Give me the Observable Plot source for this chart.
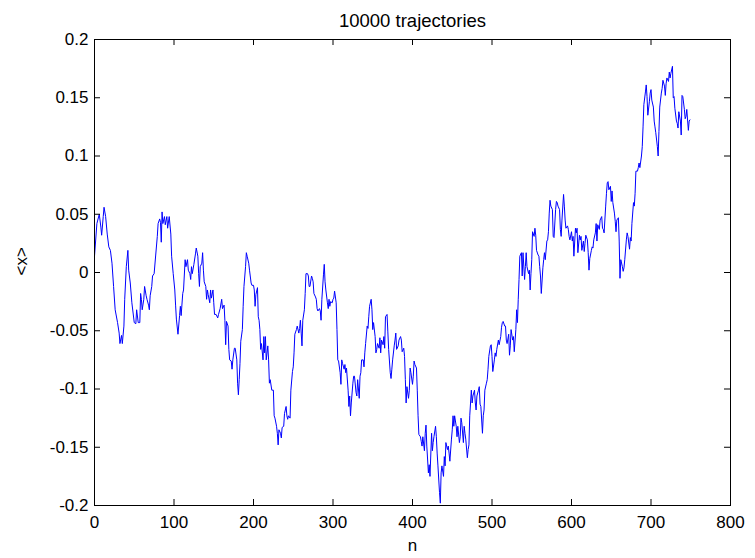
<!DOCTYPE html>
<html>
<head>
<meta charset="utf-8">
<script src="https://cdn.jsdelivr.net/npm/d3@7"></script>
<script src="https://cdn.jsdelivr.net/npm/@observablehq/plot@0.6"></script>
<style>
  html, body { margin: 0; padding: 0; background: #fff; }
</style>
</head>
<body>
<div id="chart"></div>
<script>
// Ensemble mean <x> after n steps, averaged over 10000 trajectories
const steps = [
  0, 3, 6, 8, 9, 11, 12, 14, 16, 18,
  20, 22, 24, 26, 29, 31, 32, 34, 35, 37,
  38, 40, 42, 43, 45, 47, 50, 52, 53, 55,
  57, 58, 59, 60, 62, 63, 65, 66, 68, 69,
  70, 72, 73, 75, 77, 79, 80, 82, 83, 84,
  85, 86, 88, 89, 91, 92, 94, 96, 97, 99,
  101, 102, 103, 105, 107, 108, 109, 111, 112, 114,
  115, 117, 118, 120, 121, 122, 123, 125, 127, 128,
  130, 131, 132, 133, 135, 136, 137, 138, 140, 141,
  142, 143, 145, 146, 147, 149, 150, 151, 153, 155,
  156, 158, 160, 161, 163, 164, 165, 166, 168, 169,
  170, 172, 173, 174, 176, 177, 179, 180, 181, 182,
  183, 184, 186, 187, 188, 190, 191, 192, 194, 195,
  197, 198, 200, 201, 202, 203, 205, 206, 207, 208,
  209, 210, 212, 213, 214, 215, 216, 218, 219, 220,
  221, 223, 225, 226, 227, 229, 230, 231, 232, 234,
  235, 236, 238, 239, 241, 242, 243, 244, 246, 247,
  249, 250, 251, 252, 254, 255, 257, 258, 259, 260,
  261, 262, 264, 265, 266, 268, 269, 270, 271, 273,
  274, 275, 276, 278, 279, 280, 281, 283, 284, 285,
  286, 288, 289, 290, 291, 293, 294, 295, 296, 297,
  299, 300, 301, 302, 304, 305, 306, 307, 309, 310,
  311, 312, 314, 315, 316, 317, 319, 320, 321, 322,
  323, 325, 326, 327, 329, 330, 331, 333, 334, 335,
  336, 338, 339, 340, 341, 343, 344, 345, 346, 348,
  349, 350, 351, 353, 354, 355, 356, 358, 359, 360,
  361, 363, 364, 365, 366, 368, 369, 370, 372, 373,
  374, 375, 377, 378, 379, 380, 382, 383, 385, 386,
  387, 389, 390, 391, 392, 393, 395, 396, 397, 398,
  400, 401, 402, 403, 405, 406, 407, 408, 410, 411,
  412, 413, 415, 416, 417, 418, 420, 421, 422, 424,
  425, 426, 427, 429, 430, 431, 432, 434, 435, 436,
  437, 439, 440, 441, 442, 444, 445, 446, 447, 449,
  450, 451, 452, 453, 455, 456, 457, 459, 460, 461,
  462, 464, 465, 466, 467, 469, 470, 471, 472, 474,
  475, 476, 478, 479, 480, 481, 483, 484, 485, 486,
  488, 489, 490, 491, 493, 494, 495, 496, 498, 499,
  500, 501, 503, 504, 505, 506, 508, 509, 511, 512,
  513, 514, 516, 517, 518, 519, 521, 522, 523, 524,
  526, 527, 528, 530, 531, 532, 533, 534, 535, 537,
  538, 539, 541, 542, 543, 544, 546, 547, 548, 549,
  550, 551, 553, 554, 555, 556, 558, 559, 560, 561,
  562, 564, 565, 566, 567, 569, 570, 571, 572, 573,
  574, 576, 577, 578, 580, 581, 582, 583, 585, 586,
  587, 588, 590, 591, 592, 593, 595, 596, 597, 598,
  600, 601, 602, 603, 605, 606, 607, 608, 610, 611,
  612, 613, 615, 616, 617, 618, 620, 621, 622, 623,
  625, 626, 627, 628, 630, 631, 632, 633, 635, 636,
  638, 639, 640, 641, 643, 644, 645, 646, 647, 649,
  650, 651, 652, 654, 655, 656, 657, 659, 660, 661,
  662, 664, 665, 666, 667, 669, 670, 671, 673, 674,
  675, 676, 678, 679, 680, 681, 683, 684, 685, 686,
  688, 689, 690, 691, 693, 694, 695, 696, 698, 699,
  700, 701, 703, 704, 705, 706, 708, 709, 710, 711,
  713, 714, 715, 717, 718, 719, 720, 722, 723, 724,
  725, 727, 728, 729, 730, 732, 733, 734, 735, 737,
  738, 739, 740, 742, 743, 744, 745, 747, 748, 749
];

const meanX = [
  0.014, 0.042, 0.050, 0.039, 0.032, 0.048, 0.056, 0.048, 0.033, 0.022,
  0.019, 0.008, -0.012, -0.032, -0.043, -0.052, -0.061, -0.054, -0.061, -0.046,
  -0.023, 0.005, 0.019, 0.002, -0.009, -0.026, -0.043, -0.044, -0.032, -0.043,
  -0.043, -0.018, -0.023, -0.032, -0.023, -0.012, -0.020, -0.023, -0.028, -0.032,
  -0.020, -0.012, -0.003, -0.001, 0.015, 0.031, 0.042, 0.046, 0.043, 0.026,
  0.052, 0.042, 0.048, 0.041, 0.048, 0.038, 0.048, 0.033, 0.014, -0.001,
  -0.015, -0.028, -0.040, -0.053, -0.037, -0.029, -0.037, -0.018, -0.015, 0.011,
  0.005, 0.011, 0.002, -0.001, -0.006, 0.005, -0.001, 0.007, 0.016, 0.021,
  0.014, -0.001, -0.012, 0.005, 0.008, 0.017, 0.002, -0.008, -0.012, -0.023,
  -0.015, -0.019, -0.026, -0.015, -0.022, -0.015, -0.026, -0.036, -0.036, -0.039,
  -0.036, -0.031, -0.023, -0.031, -0.028, -0.041, -0.062, -0.042, -0.046, -0.066,
  -0.075, -0.076, -0.083, -0.075, -0.065, -0.065, -0.075, -0.095, -0.105, -0.092,
  -0.078, -0.059, -0.049, -0.029, -0.012, 0.005, 0.017, 0.014, 0.008, 0.002,
  -0.009, -0.011, -0.011, -0.015, -0.029, -0.019, -0.013, -0.038, -0.041, -0.049,
  -0.066, -0.061, -0.075, -0.055, -0.069, -0.055, -0.075, -0.063, -0.075, -0.095,
  -0.092, -0.101, -0.101, -0.123, -0.125, -0.132, -0.138, -0.148, -0.135, -0.138,
  -0.142, -0.133, -0.132, -0.121, -0.115, -0.123, -0.126, -0.123, -0.125, -0.101,
  -0.085, -0.081, -0.069, -0.053, -0.049, -0.046, -0.052, -0.048, -0.041, -0.052,
  -0.063, -0.041, -0.032, -0.018, -0.001, -0.001, -0.003, -0.012, -0.012, -0.003,
  -0.005, -0.008, -0.018, -0.021, -0.023, -0.031, -0.033, -0.031, -0.033, -0.041,
  -0.023, -0.002, 0.007, -0.008, -0.015, -0.026, -0.031, -0.023, -0.029, -0.025,
  -0.026, -0.023, -0.022, -0.016, -0.026, -0.049, -0.075, -0.076, -0.086, -0.096,
  -0.075, -0.078, -0.083, -0.079, -0.086, -0.082, -0.101, -0.115, -0.106, -0.123,
  -0.112, -0.095, -0.089, -0.089, -0.103, -0.106, -0.092, -0.108, -0.089, -0.086,
  -0.075, -0.075, -0.081, -0.069, -0.061, -0.046, -0.048, -0.038, -0.029, -0.023,
  -0.032, -0.049, -0.043, -0.055, -0.069, -0.066, -0.061, -0.065, -0.056, -0.069,
  -0.058, -0.062, -0.055, -0.065, -0.038, -0.036, -0.051, -0.066, -0.086, -0.091,
  -0.083, -0.075, -0.063, -0.058, -0.052, -0.066, -0.063, -0.058, -0.055, -0.058,
  -0.068, -0.065, -0.072, -0.092, -0.112, -0.098, -0.108, -0.101, -0.082, -0.086,
  -0.096, -0.089, -0.076, -0.079, -0.082, -0.101, -0.123, -0.139, -0.141, -0.145,
  -0.149, -0.141, -0.153, -0.138, -0.131, -0.149, -0.172, -0.165, -0.175, -0.138,
  -0.153, -0.146, -0.141, -0.132, -0.141, -0.155, -0.166, -0.189, -0.198, -0.172,
  -0.166, -0.175, -0.158, -0.166, -0.146, -0.152, -0.149, -0.155, -0.162, -0.143,
  -0.135, -0.123, -0.132, -0.123, -0.132, -0.141, -0.132, -0.146, -0.141, -0.125,
  -0.129, -0.146, -0.132, -0.138, -0.143, -0.159, -0.152, -0.148, -0.123, -0.101,
  -0.112, -0.106, -0.101, -0.112, -0.118, -0.106, -0.101, -0.098, -0.113, -0.115,
  -0.138, -0.123, -0.118, -0.101, -0.095, -0.092, -0.083, -0.072, -0.063, -0.062,
  -0.072, -0.085, -0.075, -0.069, -0.072, -0.066, -0.058, -0.062, -0.055, -0.047,
  -0.043, -0.042, -0.046, -0.046, -0.058, -0.061, -0.053, -0.071, -0.063, -0.049,
  -0.058, -0.055, -0.068, -0.049, -0.032, -0.043, -0.023, -0.006, 0.014, 0.017,
  -0.003, 0.017, -0.006, 0.005, 0.017, 0.005, -0.001, 0.002, -0.015, -0.001,
  0.011, 0.035, 0.031, 0.038, 0.032, 0.019, 0.015, 0.014, 0.005, -0.003,
  -0.018, 0.004, 0.011, 0.017, 0.011, 0.027, 0.028, 0.035, 0.051, 0.062,
  0.057, 0.054, 0.031, 0.030, 0.054, 0.061, 0.060, 0.057, 0.054, 0.037,
  0.031, 0.045, 0.067, 0.057, 0.045, 0.038, 0.040, 0.037, 0.031, 0.028,
  0.035, 0.027, 0.031, 0.014, 0.038, 0.034, 0.038, 0.017, 0.032, 0.028,
  0.031, 0.019, 0.027, 0.018, 0.025, 0.032, 0.028, 0.017, 0.002, 0.012,
  0.019, 0.022, 0.021, 0.028, 0.034, 0.042, 0.027, 0.041, 0.037, 0.045,
  0.048, 0.038, 0.037, 0.034, 0.057, 0.068, 0.077, 0.078, 0.071, 0.074,
  0.061, 0.070, 0.060, 0.051, 0.044, 0.035, 0.045, 0.047, 0.027, -0.005,
  0.011, 0.005, 0.001, 0.004, 0.011, 0.028, 0.034, 0.031, 0.020, 0.030,
  0.027, 0.042, 0.060, 0.057, 0.068, 0.087, 0.087, 0.090, 0.094, 0.090,
  0.100, 0.108, 0.125, 0.144, 0.155, 0.161, 0.151, 0.135, 0.147, 0.154,
  0.157, 0.148, 0.142, 0.130, 0.125, 0.120, 0.108, 0.100, 0.121, 0.142,
  0.154, 0.158, 0.165, 0.160, 0.152, 0.162, 0.167, 0.164, 0.172, 0.167,
  0.171, 0.177, 0.150, 0.151, 0.141, 0.130, 0.128, 0.124, 0.138, 0.130,
  0.118, 0.152, 0.151, 0.140, 0.132, 0.134, 0.140, 0.122, 0.130, 0.131
];

const xTicks = [0, 100, 200, 300, 400, 500, 600, 700, 800];
const yTicks = [-0.2, -0.15, -0.1, -0.05, 0, 0.05, 0.1, 0.15, 0.2];
const titleText = "10000 trajectories";
const xLabel = "n";
const yLabel = "<x>";

const W = 755, H = 558;
const M = {top: 39, right: 25, bottom: 53, left: 94};
const innerW = W - M.left - M.right;
const innerH = H - M.top - M.bottom;
const tickLen = 6;

const series = steps.map((n, i) => ({n, v: meanX[i]}));
const fmt = d => String(d);

const chart = Plot.plot({
  width: W,
  height: H,
  marginTop: M.top,
  marginRight: M.right,
  marginBottom: M.bottom,
  marginLeft: M.left,
  style: {
    fontFamily: "'Liberation Sans', Arial, Helvetica, sans-serif",
    background: "#fff",
    color: "#000",
    overflow: "visible"
  },
  x: {domain: [0, 800]},
  y: {domain: [-0.2, 0.2]},
  marks: [
    Plot.line(series, {x: "n", y: "v", stroke: "#0000ff", strokeWidth: 1}),
    Plot.frame({stroke: "#000", strokeWidth: 1}),
    // inward ticks on all four sides of the box
    Plot.tickX(xTicks, {x: d => d, insetTop: innerH - tickLen, stroke: "#000"}),
    Plot.tickX(xTicks, {x: d => d, insetBottom: innerH - tickLen, stroke: "#000"}),
    Plot.tickY(yTicks, {y: d => d, insetRight: innerW - tickLen, stroke: "#000"}),
    Plot.tickY(yTicks, {y: d => d, insetLeft: innerW - tickLen, stroke: "#000"}),
    Plot.axisX(xTicks, {tickSize: 0, tickPadding: 10, tickFormat: fmt, fontSize: 17, label: null}),
    Plot.axisY(yTicks, {tickSize: 0, tickPadding: 6, tickFormat: fmt, fontSize: 17, label: null}),
    Plot.text([titleText], {text: d => d, frameAnchor: "top", dy: -26, fontSize: 18.5, fill: "#000"}),
    Plot.text([xLabel], {text: d => d, frameAnchor: "bottom", dy: 45, fontSize: 17, fill: "#000"}),
    Plot.text([yLabel], {text: d => d, frameAnchor: "left", dx: -73, dy: 3, rotate: -90, fontSize: 17, fill: "#000"})
  ]
});

document.getElementById("chart").appendChild(chart);
</script>
</body>
</html>
